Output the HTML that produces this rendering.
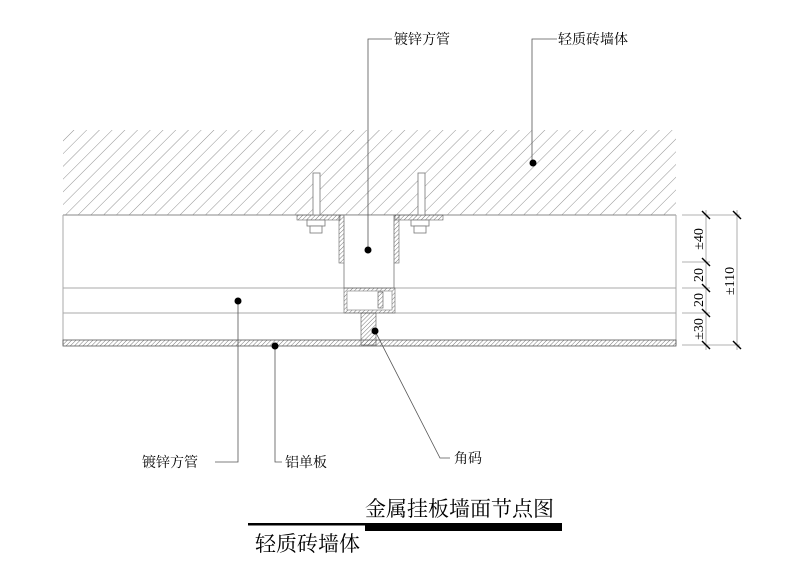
<!DOCTYPE html>
<html><head><meta charset="utf-8"><style>
html,body{margin:0;padding:0;background:#fff;}
svg{display:block;}
text{font-family:"Liberation Serif","Noto Serif CJK SC",serif;fill:#000;}
</style></head><body>
<svg width="800" height="565" viewBox="0 0 800 565" xmlns="http://www.w3.org/2000/svg">
<defs>
<pattern id="h" width="9" height="9" patternUnits="userSpaceOnUse" patternTransform="rotate(45)">
<line x1="0" y1="0" x2="0" y2="9" stroke="#777" stroke-width="0.8"/>
</pattern>
<pattern id="h2" width="3" height="3" patternUnits="userSpaceOnUse" patternTransform="rotate(45)">
<line x1="0" y1="0" x2="0" y2="3" stroke="#555" stroke-width="0.8"/>
</pattern>
</defs>
<rect x="63" y="130" width="613" height="85" fill="url(#h)"/>
<line x1="63" y1="215" x2="676" y2="215" stroke="#888" stroke-width="1"/>
<g stroke="#aaa" stroke-width="1" fill="none">
<line x1="63" y1="288" x2="676" y2="288"/>
<line x1="63" y1="313" x2="676" y2="313"/>
<line x1="63" y1="215" x2="63" y2="345"/>
<line x1="676" y1="215" x2="676" y2="345"/>
</g>
<rect x="63" y="340" width="613" height="6" fill="url(#h2)" stroke="#555" stroke-width="0.8"/>
<rect x="297" y="215" width="43" height="5" fill="url(#h2)" stroke="#666" stroke-width="0.6"/>
<rect x="395" y="215" width="48" height="5" fill="url(#h2)" stroke="#666" stroke-width="0.6"/>
<rect x="339" y="215" width="6" height="48" fill="url(#h2)" stroke="#666" stroke-width="0.6"/>
<rect x="393" y="215" width="6" height="48" fill="url(#h2)" stroke="#666" stroke-width="0.6"/>
<rect x="344" y="215" width="50" height="73" fill="#fff" stroke="#777" stroke-width="0.8"/>
<rect x="344" y="288" width="51" height="25" fill="url(#h2)" stroke="#666" stroke-width="0.6"/>
<rect x="347" y="291" width="45" height="19" fill="#fff" stroke="#777" stroke-width="0.6"/>
<rect x="378" y="292" width="5" height="16" fill="url(#h2)" stroke="#555" stroke-width="0.6"/>
<rect x="361" y="313" width="15" height="32" fill="url(#h2)" stroke="#555" stroke-width="0.6"/>
<g fill="#fff" stroke="#777" stroke-width="0.8">
<rect x="313" y="173" width="7" height="42"/>
<rect x="418" y="173" width="7" height="42"/>
<rect x="307" y="220" width="18" height="6"/>
<rect x="411" y="220" width="18" height="6"/>
<rect x="310" y="226" width="12" height="7"/>
<rect x="414" y="226" width="12" height="7"/>
</g>
<g stroke="#999" stroke-width="0.8">
<line x1="682" y1="215" x2="740" y2="215"/>
<line x1="682" y1="262" x2="710" y2="262"/>
<line x1="682" y1="288" x2="710" y2="288"/>
<line x1="682" y1="313" x2="710" y2="313"/>
<line x1="682" y1="345" x2="740" y2="345"/>
<line x1="706" y1="210" x2="706" y2="350"/>
<line x1="737" y1="210" x2="737" y2="350"/>
</g>
<g stroke="#000" stroke-width="1.4">
<line x1="702" y1="211" x2="710" y2="219"/><line x1="733" y1="211" x2="741" y2="219"/>
<line x1="702" y1="258" x2="710" y2="266"/>
<line x1="702" y1="284" x2="710" y2="292"/>
<line x1="702" y1="309" x2="710" y2="317"/>
<line x1="702" y1="341" x2="710" y2="349"/><line x1="733" y1="341" x2="741" y2="349"/>
</g>
<g font-size="14">
<text transform="translate(703,239) rotate(-90)" text-anchor="middle">±40</text>
<text transform="translate(703,275) rotate(-90)" text-anchor="middle">20</text>
<text transform="translate(703,300) rotate(-90)" text-anchor="middle">20</text>
<text transform="translate(703,329) rotate(-90)" text-anchor="middle">±30</text>
<text transform="translate(734,281) rotate(-90)" text-anchor="middle">±110</text>
</g>
<g stroke="#555" stroke-width="0.8" fill="none">
<polyline points="368,250 368,39 392,39"/>
<polyline points="532,163 532,39 557,39"/>
<polyline points="238,301 238,462 215,462"/>
<polyline points="275,346 275,462 282,462"/>
<polyline points="375,331 440,458 450,458"/>
</g>
<g fill="#000">
<circle cx="368" cy="250" r="3.5"/><circle cx="533" cy="163" r="3.5"/>
<circle cx="238" cy="301" r="3.5"/><circle cx="275" cy="346" r="3.5"/>
<circle cx="375" cy="331" r="3.5"/>
</g>
<g font-size="14">
<text x="394" y="44">镀锌方管</text>
<text x="558" y="44">轻质砖墙体</text>
<text x="142" y="467">镀锌方管</text>
<text x="285" y="467">铝单板</text>
<text x="454" y="463">角码</text>
</g>
<text x="365" y="516" font-size="21">金属挂板墙面节点图</text>
<rect x="365" y="523" width="197" height="8" fill="#000"/>
<rect x="248" y="523" width="118" height="2.5" fill="#000"/>
<text x="255" y="551" font-size="21">轻质砖墙体</text>
</svg>
</body></html>
